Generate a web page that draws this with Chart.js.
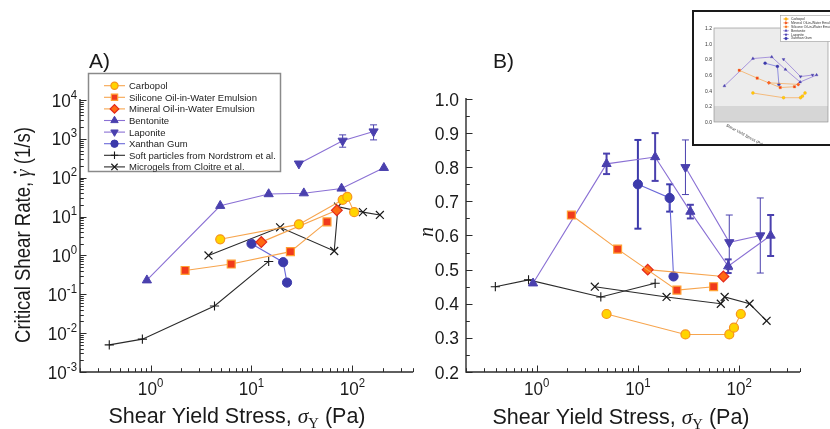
<!DOCTYPE html>
<html>
<head>
<meta charset="utf-8">
<title>Critical shear rate and flow index vs yield stress</title>
<script src="https://cdn.jsdelivr.net/npm/chart.js@4.4.1/dist/chart.umd.min.js"></script>
<style>
  html, body { margin: 0; padding: 0; background: #fff; }
  #wrap { position: relative; width: 830px; height: 429px; overflow: hidden; }
  #chartA { position: absolute; left: 0; top: 0; }
  #chartB { position: absolute; left: 420px; top: 0; }
  #inset { position: absolute; left: 692px; top: 10px; width: 140px; height: 132px; border: 2px solid #1a1a1a; background: #fff; }
</style>
</head>
<body>
<div id="wrap">
  <canvas id="chartA" width="420" height="429"></canvas>
  <canvas id="chartB" width="410" height="429"></canvas>
  <div id="inset"><canvas id="chartInset" width="140" height="132"></canvas></div>
</div>
<script>
(function () {
  var SANS = '"Liberation Sans", Arial, Helvetica, sans-serif';
  var SERIF = '"Liberation Serif", "Times New Roman", serif';

  var seriesNames = [
    "Carbopol",
    "Silicone Oil-in-Water Emulsion",
    "Mineral Oil-in-Water Emulsion",
    "Bentonite",
    "Laponite",
    "Xanthan Gum",
    "Soft particles from Nordstrom et al.",
    "Microgels from Cloitre et al."
  ];

  // shear yield stress (Pa), critical shear rate (1/s), flow index n
  var carbopolX = [4.9, 29.5, 80, 89, 104];
  var carbopolRate = [2.6, 6.3, 27, 32, 13];
  var carbopolN = [0.37, 0.31, 0.31, 0.33, 0.37];

  var siliconeX = [2.2, 6.3, 24.3, 56];
  var siliconeRate = [0.41, 0.6, 1.25, 7.3];
  var siliconeN = [0.66, 0.56, 0.44, 0.45];

  var mineralX = [12.5, 70];
  var mineralRate = [2.2, 14.5];
  var mineralN = [0.50, 0.48];

  var bentoniteX = [0.92, 4.9, 14.8, 33, 78, 205];
  var bentoniteRate = [0.23, 19, 38, 40, 53, 180];
  var bentoniteN = [0.46, 0.81, 0.83, 0.67, 0.51, 0.60];
  var bentoniteNLo = [null, 0.78, 0.76, 0.65, 0.49, 0.54];
  var bentoniteNHi = [null, 0.84, 0.90, 0.69, 0.53, 0.66];

  var laponiteX = [29.5, 80, 162];
  var laponiteRate = [230, 890, 1540];
  var laponiteRateLo = [null, 610, 940];
  var laponiteRateHi = [null, 1265, 2290];
  var laponiteN = [0.80, 0.58, 0.60];
  var laponiteNLo = [0.72, 0.50, 0.49];
  var laponiteNHi = [0.88, 0.66, 0.71];

  var xanthanX = [10, 20.6, 22.5];
  var xanthanRate = [2.0, 0.67, 0.2];
  var xanthanN = [0.75, 0.71, 0.48];
  var xanthanNLo = [0.62, 0.67, null];
  var xanthanNHi = [0.88, 0.75, null];

  var nordstromX = [0.39, 0.83, 4.3, 14.8];
  var nordstromRate = [0.005, 0.007, 0.05, 0.7];
  var nordstromN = [0.45, 0.47, 0.42, 0.46];

  var cloitreX = [3.75, 19.2, 66, 72, 127, 187];
  var cloitreRate = [1.0, 5.3, 1.3, 18, 13, 11];
  var cloitreN = [0.45, 0.42, 0.40, 0.42, 0.40, 0.35];

  var xTickValues = [1, 10, 100];
  var xTickExps = ["0", "1", "2"];
  var rateTickValues = [1e-3, 1e-2, 1e-1, 1, 10, 100, 1e3, 1e4];
  var rateTickExps = ["-3", "-2", "-1", "0", "1", "2", "3", "4"];
  var nTickValues = [0.2, 0.3, 0.4, 0.5, 0.6, 0.7, 0.8, 0.9, 1.0];
  var nTickLabels = ["0.2", "0.3", "0.4", "0.5", "0.6", "0.7", "0.8", "0.9", "1.0"];
  var insetTickValues = [0, 0.2, 0.4, 0.6, 0.8, 1.0, 1.2];
  var insetTickLabels = ["0.0", "0.2", "0.4", "0.6", "0.8", "1.0", "1.2"];
  var insetOrder = [0, 2, 1, 3, 4, 5];

  var allX = [carbopolX, siliconeX, mineralX, bentoniteX, laponiteX, xanthanX, nordstromX, cloitreX];
  var allRate = [carbopolRate, siliconeRate, mineralRate, bentoniteRate, laponiteRate, xanthanRate, nordstromRate, cloitreRate];
  var allN = [carbopolN, siliconeN, mineralN, bentoniteN, laponiteN, xanthanN, nordstromN, cloitreN];
  var rateLo = [null, null, null, null, laponiteRateLo, null, null, null];
  var rateHi = [null, null, null, null, laponiteRateHi, null, null, null];
  var nLo = [null, null, null, bentoniteNLo, laponiteNLo, xanthanNLo, null, null];
  var nHi = [null, null, null, bentoniteNHi, laponiteNHi, xanthanNHi, null, null];

  var styles = [
    { line: "#f7a54e", fill: "#ffd400", stroke: "#f7941d", shape: "circle", r: 4.5, rot: 0, bw: 1.2 },
    { line: "#f7a54e", fill: "#f03a1c", stroke: "#ffa033", shape: "rect", r: 5.6, rot: 0, bw: 1.2 },
    { line: "#f7a54e", fill: "#ff6a12", stroke: "#e3281c", shape: "rectRot", r: 5.4, rot: 0, bw: 1.2 },
    { line: "#8a70d4", fill: "#4a40ae", stroke: "#4a40ae", shape: "triangle", r: 5.3, rot: 0, bw: 1, errW: 2 },
    { line: "#8a70d4", fill: "#4a40ae", stroke: "#4a40ae", shape: "triangle", r: 5.3, rot: 180, bw: 1, errW: 1 },
    { line: "#6a68d8", fill: "#3c3aab", stroke: "#3c3aab", shape: "circle", r: 4.6, rot: 0, bw: 1, errW: 2 },
    { line: "#2a2a2a", fill: "#1a1a1a", stroke: "#1a1a1a", shape: "cross", r: 4.6, rot: 0, bw: 1.1 },
    { line: "#2a2a2a", fill: "#1a1a1a", stroke: "#1a1a1a", shape: "crossRot", r: 5.6, rot: 0, bw: 1.2 }
  ];

  function makeDatasets(ys, los, his, idxs, scale, lineW) {
    return idxs.map(function (i) {
      var st = styles[i];
      return {
        label: seriesNames[i],
        data: allX[i].map(function (v, j) { return { x: v, y: ys[i][j] }; }),
        errLo: los ? los[i] : null,
        errHi: his ? his[i] : null,
        errWidth: st.errW || 1,
        showLine: true,
        borderColor: st.line,
        borderWidth: lineW,
        backgroundColor: st.fill,
        pointStyle: st.shape,
        pointRadius: st.r * scale,
        pointRotation: st.rot,
        pointBackgroundColor: st.fill,
        pointBorderColor: st.stroke,
        pointBorderWidth: st.bw * scale,
        tension: 0,
        clip: false
      };
    });
  }

  function richWidth(ctx, parts) {
    var w = 0;
    parts.forEach(function (p) { ctx.font = p.font; w += ctx.measureText(p.t).width; });
    return w;
  }

  function drawRich(ctx, parts, x, y, align, sx) {
    var w = richWidth(ctx, parts);
    ctx.save();
    ctx.translate(x, y);
    ctx.scale(sx || 1, 1);
    var cx = align === "center" ? -w / 2 : (align === "right" ? -w : 0);
    ctx.textAlign = "left";
    ctx.textBaseline = "alphabetic";
    parts.forEach(function (p) {
      ctx.font = p.font;
      var pw = ctx.measureText(p.t).width;
      ctx.fillText(p.t, cx, p.dy || 0);
      if (p.dot) {
        ctx.beginPath();
        ctx.arc(cx + pw * 0.6, (p.dy || 0) - p.dot, 1.4, 0, Math.PI * 2);
        ctx.fill();
      }
      cx += pw;
    });
    ctx.restore();
  }

  function fitRich(ctx, parts, x, y, width) {
    drawRich(ctx, parts, x, y, "center", width / richWidth(ctx, parts));
  }

  function power(exp, big, small, rise) {
    return [
      { t: "10", font: big + "px " + SANS },
      { t: exp, font: small + "px " + SANS, dy: -rise }
    ];
  }

  function line(ctx, x1, y1, x2, y2) {
    ctx.beginPath();
    ctx.moveTo(x1, y1);
    ctx.lineTo(x2, y2);
    ctx.stroke();
  }

  function drawLogXTicks(ctx, a, xs) {
    for (var d = -1; d <= 2; d++) {
      for (var m = 1; m <= 9; m++) {
        var v = m * Math.pow(10, d);
        if (v < xs.min || v > xs.max) continue;
        var px = Math.round(xs.getPixelForValue(v)) + 0.5;
        line(ctx, px, a.bottom, px, a.bottom - (m === 1 ? 6.5 : 3.8));
      }
    }
  }

  function drawFrame(ctx, a) {
    ctx.strokeStyle = "#2b2b2b";
    ctx.lineWidth = 1.4;
    ctx.beginPath();
    ctx.moveTo(a.left, a.top - 1);
    ctx.lineTo(a.left, a.bottom);
    ctx.lineTo(a.right, a.bottom);
    ctx.stroke();
    ctx.lineWidth = 1;
  }

  function xTitle() {
    return [
      { t: "Shear Yield Stress, ", font: "22px " + SANS },
      { t: "\u03c3", font: "italic 22px " + SERIF },
      { t: "Y", font: "15px " + SERIF, dy: 5 },
      { t: " (Pa)", font: "22px " + SANS }
    ];
  }

  function drawLegend(ctx) {
    ctx.save();
    ctx.fillStyle = "#fff";
    ctx.fillRect(88.5, 73.5, 192, 98);
    ctx.strokeStyle = "#8a8a8a";
    ctx.lineWidth = 1.5;
    ctx.strokeRect(88.5, 73.5, 192, 98);
    seriesNames.forEach(function (name, i) {
      var st = styles[i];
      var y = 85.7 + i * 11.6;
      ctx.strokeStyle = st.line;
      ctx.lineWidth = 1.1;
      line(ctx, 104, y, 125, y);
      ctx.fillStyle = st.fill;
      ctx.strokeStyle = st.stroke;
      ctx.lineWidth = st.bw;
      Chart.helpers.drawPoint(ctx, { pointStyle: st.shape, radius: st.r * 0.8, rotation: st.rot, borderWidth: st.bw }, 114.5, y);
      ctx.fillStyle = "#222";
      ctx.font = "9.5px " + SANS;
      ctx.textAlign = "left";
      ctx.textBaseline = "alphabetic";
      ctx.fillText(name, 129, y + 3.5);
    });
    ctx.restore();
  }

  var errorBarPlugin = {
    id: "errorBars",
    beforeDatasetsDraw: function (chart) {
      var ctx = chart.ctx, xs = chart.scales.x, ys = chart.scales.y;
      chart.data.datasets.forEach(function (ds) {
        if (!ds.errLo) return;
        ctx.save();
        ctx.strokeStyle = ds.pointBackgroundColor;
        ctx.lineWidth = ds.errWidth;
        ds.data.forEach(function (p, j) {
          var lo = ds.errLo[j], hi = ds.errHi[j];
          if (lo == null || hi == null) return;
          var px = xs.getPixelForValue(p.x);
          var y1 = ys.getPixelForValue(lo), y2 = ys.getPixelForValue(hi);
          line(ctx, px, y1, px, y2);
          line(ctx, px - 3.5, y1, px + 3.5, y1);
          line(ctx, px - 3.5, y2, px + 3.5, y2);
        });
        ctx.restore();
      });
    }
  };

  var panelAPlugin = {
    id: "panelA",
    beforeDatasetsDraw: function (chart) {
      var ctx = chart.ctx, a = chart.chartArea, xs = chart.scales.x, ys = chart.scales.y;
      ctx.save();
      drawFrame(ctx, a);
      ctx.strokeStyle = "#2b2b2b";
      drawLogXTicks(ctx, a, xs);
      for (var d = -3; d <= 4; d++) {
        for (var m = 1; m <= 9; m++) {
          var v = m * Math.pow(10, d);
          if (v < ys.min * 0.999 || v > ys.max * 1.001) continue;
          var py = Math.round(ys.getPixelForValue(v)) + 0.5;
          line(ctx, a.left, py, a.left + (m === 1 ? 6.5 : 3.8), py);
        }
      }
      ctx.fillStyle = "#1a1a1a";
      xTickValues.forEach(function (v, i) {
        drawRich(ctx, power(xTickExps[i], 18, 12, 8), xs.getPixelForValue(v), 395, "center", 0.95);
      });
      rateTickValues.forEach(function (v, i) {
        drawRich(ctx, power(rateTickExps[i], 18, 12, 8), 77, ys.getPixelForValue(v) + 6.5, "right", 0.95);
      });
      fitRich(ctx, xTitle(), 237, 423, 257);
      ctx.save();
      ctx.translate(22, 235);
      ctx.rotate(-Math.PI / 2);
      fitRich(ctx, [
        { t: "Critical Shear Rate, ", font: "22px " + SANS },
        { t: "\u03b3", font: "italic 22px " + SERIF, dot: 15 },
        { t: " (1/s)", font: "22px " + SANS }
      ], 0, 8, 216);
      ctx.restore();
      drawRich(ctx, [{ t: "A)", font: "21px " + SANS }], 89, 68, "left", 1);
      ctx.restore();
    },
    afterDraw: function (chart) {
      drawLegend(chart.ctx);
    }
  };

  var panelBPlugin = {
    id: "panelB",
    beforeDatasetsDraw: function (chart) {
      var ctx = chart.ctx, a = chart.chartArea, xs = chart.scales.x, ys = chart.scales.y;
      ctx.save();
      drawFrame(ctx, a);
      ctx.strokeStyle = "#2b2b2b";
      drawLogXTicks(ctx, a, xs);
      for (var k = 0; k <= 16; k++) {
        var v = 0.2 + k * 0.05;
        var py = Math.round(ys.getPixelForValue(v)) + 0.5;
        line(ctx, a.left, py, a.left + (k % 2 === 0 ? 6.5 : 3.8), py);
      }
      ctx.fillStyle = "#1a1a1a";
      xTickValues.forEach(function (v, i) {
        drawRich(ctx, power(xTickExps[i], 18, 12, 8), xs.getPixelForValue(v), 395, "center", 0.95);
      });
      nTickValues.forEach(function (v, i) {
        drawRich(ctx, [{ t: nTickLabels[i], font: "18px " + SANS }], 39, ys.getPixelForValue(v) + 6.5, "right", 0.97);
      });
      fitRich(ctx, xTitle(), 201, 424, 257);
      ctx.save();
      ctx.translate(8, 232);
      ctx.rotate(-Math.PI / 2);
      drawRich(ctx, [{ t: "n", font: "italic 20px " + SERIF }], 0, 5, "center", 1);
      ctx.restore();
      drawRich(ctx, [{ t: "B)", font: "21px " + SANS }], 73, 68, "left", 1);
      ctx.restore();
    }
  };

  var insetPlugin = {
    id: "insetDecor",
    beforeDatasetsDraw: function (chart) {
      var ctx = chart.ctx, a = chart.chartArea, ys = chart.scales.y;
      ctx.save();
      ctx.fillStyle = "#ececec";
      ctx.fillRect(a.left, a.top, a.right - a.left, a.bottom - a.top);
      ctx.fillStyle = "#d6d6d6";
      ctx.fillRect(a.left, a.bottom - 16, a.right - a.left, 16);
      ctx.strokeStyle = "#888";
      ctx.lineWidth = 0.6;
      ctx.strokeRect(a.left, a.top, a.right - a.left, a.bottom - a.top);
      ctx.fillStyle = "#333";
      insetTickValues.forEach(function (v, i) {
        drawRich(ctx, [{ t: insetTickLabels[i], font: "5px " + SANS }], a.left - 2, ys.getPixelForValue(v) + 2, "right", 1);
      });
      ctx.save();
      ctx.translate(a.left + 30, a.bottom + 14);
      ctx.rotate(0.5);
      drawRich(ctx, [{ t: "Shear Yield Stress (Pa)", font: "4px " + SANS }], 0, 0, "center", 1);
      ctx.restore();
      ctx.restore();
    },
    afterDraw: function (chart) {
      var ctx = chart.ctx;
      ctx.save();
      ctx.fillStyle = "#fff";
      ctx.fillRect(86.5, 3.5, 52, 26);
      ctx.strokeStyle = "#999";
      ctx.lineWidth = 0.6;
      ctx.strokeRect(86.5, 3.5, 52, 26);
      insetOrder.forEach(function (i, k) {
        var st = styles[i];
        var y = 7 + k * 3.9;
        ctx.strokeStyle = st.line;
        ctx.lineWidth = 0.6;
        line(ctx, 89, y, 95, y);
        ctx.fillStyle = st.fill;
        ctx.strokeStyle = st.stroke;
        Chart.helpers.drawPoint(ctx, { pointStyle: st.shape, radius: 1.3, rotation: st.rot, borderWidth: 0.4 }, 92, y);
        ctx.fillStyle = "#333";
        ctx.font = "3.4px " + SANS;
        ctx.textAlign = "left";
        ctx.textBaseline = "middle";
        ctx.fillText(seriesNames[i], 97, y);
      });
      ctx.restore();
    }
  };

  var allIdx = [0, 1, 2, 3, 4, 5, 6, 7];

  function baseOptions(padding, xmin, xmax, ytype, ymin, ymax) {
    return {
      responsive: false,
      animation: false,
      layout: { padding: padding },
      plugins: { legend: { display: false }, tooltip: { enabled: false } },
      scales: {
        x: { type: "logarithmic", min: xmin, max: xmax, display: false },
        y: { type: ytype, min: ymin, max: ymax, display: false }
      }
    };
  }

  new Chart(document.getElementById("chartA"), {
    type: "scatter",
    data: { datasets: makeDatasets(allRate, rateLo, rateHi, allIdx, 1, 1.1) },
    options: baseOptions({ left: 80, top: 100, right: 5, bottom: 57 }, 0.2, 400, "logarithmic", 1e-3, 1e4),
    plugins: [panelAPlugin, errorBarPlugin]
  });

  new Chart(document.getElementById("chartB"), {
    type: "scatter",
    data: { datasets: makeDatasets(allN, nLo, nHi, allIdx, 1, 1.1) },
    options: baseOptions({ left: 46, top: 99, right: 30, bottom: 57 }, 0.2, 400, "linear", 0.2, 1.0),
    plugins: [panelBPlugin, errorBarPlugin]
  });

  new Chart(document.getElementById("chartInset"), {
    type: "scatter",
    data: { datasets: makeDatasets(allN, null, null, insetOrder, 0.32, 0.7) },
    options: baseOptions({ left: 20, top: 16, right: 6, bottom: 22 }, 0.5, 400, "linear", 0, 1.2),
    plugins: [insetPlugin]
  });
})();
</script>
</body>
</html>
